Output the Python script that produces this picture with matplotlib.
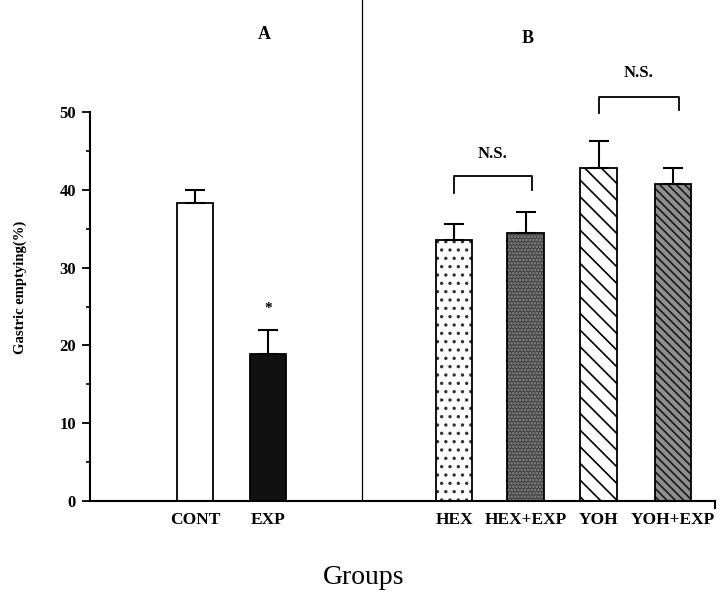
import numpy as np
import matplotlib
matplotlib.use("Agg")
import matplotlib.pyplot as plt
from matplotlib.ticker import MultipleLocator

plt.rcParams['font.family'] = ['Liberation Serif', 'DejaVu Serif']
plt.rcParams['hatch.linewidth'] = 1.2

# gastric emptying (%) per group, mean and upper SE
groups = ["CONT", "EXP", "HEX", "HEX+EXP", "YOH", "YOH+EXP"]
means = [38.3, 18.9, 33.5, 34.5, 42.8, 40.8]
errors = [1.7, 3.1, 2.1, 2.6, 3.5, 2.0]

# bar layout: panel A (first two), panel B (last four)
xpos = [0, 1, 3.55, 4.53, 5.53, 6.55]
width = 0.5

fig = plt.figure(figsize=(7.28, 5.93), dpi=100)
ax = fig.add_axes([90 / 728, 92 / 593, 625 / 728, 389 / 593])

def draw_bar(x, h, face, hatch=None, hatch_col='black'):
    if hatch:
        ax.bar(x, h, width, color=face, edgecolor=hatch_col, hatch=hatch, linewidth=0, zorder=2)
        ax.bar(x, h, width, facecolor='none', edgecolor='black', linewidth=1.3, zorder=3)
    else:
        ax.bar(x, h, width, color=face, edgecolor='black', linewidth=1.3, zorder=2)

draw_bar(xpos[0], means[0], 'white')
draw_bar(xpos[1], means[1], '#111111')
draw_bar(xpos[2], means[2], 'white', '..', '#333333')
draw_bar(xpos[3], means[3], '#444444', '.....', '#8c8c8c')
draw_bar(xpos[4], means[4], 'white', '\\\\', 'black')
draw_bar(xpos[5], means[5], '#8f8f8f', '\\\\\\\\', '#1a1a1a')

# upper-only error bars
ax.errorbar(xpos, means, yerr=[np.zeros(len(means)), errors], fmt='none',
            ecolor='black', elinewidth=1.5, capsize=7, capthick=1.5, zorder=4)

ax.set_xlim(-1.438, 7.123)
ax.set_ylim(0, 50)
ax.yaxis.set_major_locator(MultipleLocator(10))
ax.yaxis.set_minor_locator(MultipleLocator(5))
ax.tick_params(axis='y', which='major', direction='out', length=6, width=1.3,
               labelsize=12, pad=4)
ax.tick_params(axis='y', which='minor', direction='out', length=3, width=1.2)
for lab in ax.get_yticklabels():
    lab.set_fontweight('bold')

ax.set_xticks(xpos)
ax.set_xticklabels(groups, fontsize=12.5, fontweight='bold')
ax.tick_params(axis='x', length=0, pad=8)

ax.spines['top'].set_visible(False)
ax.spines['right'].set_visible(False)
ax.spines['left'].set_linewidth(1.5)
ax.spines['bottom'].set_linewidth(1.5)

# small tick at the right end of the baseline
ax.plot([7.12, 7.12], [0, -0.9], color='black', lw=1.5, clip_on=False)

# panel divider
ax.plot([2.29, 2.29], [0.3, 64.4], color='black', lw=0.9, clip_on=False)

ax.text(0.95, 59.9, "A", ha='center', va='center', fontsize=13, fontweight='bold')
ax.text(4.56, 59.5, "B", ha='center', va='center', fontsize=13, fontweight='bold')

# significance marks
ax.text(xpos[1], 24.7, "*", ha='center', va='center', fontsize=11, fontweight='bold')

def bracket(x1, x2, y, left_drop, right_drop, label, label_y):
    ax.plot([x1, x1, x2 + 0.08, x2 + 0.08], [y - left_drop, y, y, y - right_drop],
            color='black', lw=1.3, clip_on=False)
    ax.text((x1 + x2) / 2 + 0.04, label_y, label, ha='center', va='center',
            fontsize=12, fontweight='bold')

bracket(xpos[2], xpos[3], 41.8, 2.2, 1.8, "N.S.", 44.6)
bracket(xpos[4], xpos[5], 51.9, 2.0, 1.6, "N.S.", 55.0)

ax.set_ylabel("Gastric emptying(%)", fontsize=10.5, fontweight='bold')
ax.yaxis.set_label_coords(-0.1, 0.55)
fig.text(364 / 728, 1 - 578 / 593, "Groups", ha='center', va='center', fontsize=20)

fig.savefig("out.png", dpi=100)
